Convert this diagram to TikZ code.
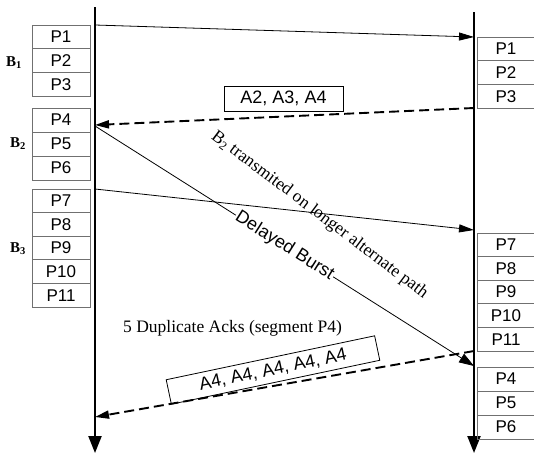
\documentclass[tikz,border=0pt]{standalone}
\usepackage{fontspec}
\setmainfont{Liberation Serif}
\newfontfamily\arialf{Liberation Sans}
\usetikzlibrary{arrows.meta}
\definecolor{boxgray}{HTML}{707070}
\tikzset{
  pbox/.style={draw=boxgray, line width=0.9pt, minimum width=58pt, minimum height=23.6pt,
    inner sep=0pt, font=\arialf\fontsize{17}{19}\selectfont},
  timeline/.style={line width=2.2pt, -{Triangle[length=17pt,width=13pt]}},
  sendarrow/.style={line width=0.8pt, -{Triangle[length=15pt,width=8pt]}},
  ackarrow/.style={line width=1.9pt, dash pattern=on 10pt off 5pt, -{Triangle[length=14pt,width=8pt]}},
  blabel/.style={font=\bfseries\fontsize{15}{17}\selectfont, anchor=west, inner sep=0pt},
  ackbox/.style={draw, line width=0.8pt, inner sep=0pt, font=\arialf\fontsize{18}{20}\selectfont},
}
\begin{document}
\begin{tikzpicture}[x=1pt,y=-1pt]
\useasboundingbox (0,0) rectangle (534,456);
% timelines
\coordinate (Ltop) at (95,7);
\coordinate (Lbot) at (95,453);
\coordinate (Rtop) at (474,12);
\coordinate (Rbot) at (474,453);
\draw[timeline] (Ltop) -- (Lbot);
\draw[timeline] (Rtop) -- (Rbot);
% left boxes
\node[pbox] (lp1) at (61,36.8) {P1};
\node[pbox] (lp2) at (61,60.5) {P2};
\node[pbox] (lp3) at (61,84.2) {P3};
\node[pbox,minimum height=24pt] (lp4) at (61,120) {P4};
\node[pbox,minimum height=24pt] (lp5) at (61,144) {P5};
\node[pbox,minimum height=24pt] (lp6) at (61,168) {P6};
\node[pbox] (lp7) at (61,200.8) {P7};
\node[pbox] (lp8) at (61,224.4) {P8};
\node[pbox] (lp9) at (61,248) {P9};
\node[pbox] (lp10) at (61,271.6) {P10};
\node[pbox] (lp11) at (61,295.2) {P11};
% right boxes
\node[pbox] (rp1) at (506,48.8) {P1};
\node[pbox] (rp2) at (506,72.5) {P2};
\node[pbox] (rp3) at (506,96.2) {P3};
\node[pbox] (rp7) at (506,244.8) {P7};
\node[pbox] (rp8) at (506,268.4) {P8};
\node[pbox] (rp9) at (506,292) {P9};
\node[pbox] (rp10) at (506,315.6) {P10};
\node[pbox] (rp11) at (506,339.2) {P11};
\node[pbox,minimum height=24pt] (rp4) at (506,379) {P4};
\node[pbox,minimum height=24pt] (rp5) at (506,403) {P5};
\node[pbox,minimum height=24pt] (rp6) at (506,427) {P6};
% burst labels
\node[blabel] (b1) at (6,63) {B\textsubscript{1}};
\node[blabel] (b2) at (10,144) {B\textsubscript{2}};
\node[blabel] (b3) at (10,249) {B\textsubscript{3}};
% connector end points
\coordinate (s1) at (95,25);
\coordinate (e1) at (474,37);
\coordinate (a1s) at (474,108);
\coordinate (a1e) at (95,125);
\coordinate (s2) at (95,126);
\coordinate (e2) at (474,366);
\coordinate (s3) at (95,189);
\coordinate (e3) at (474,230);
\coordinate (a2s) at (474,351);
\coordinate (a2e) at (95,417);
% connectors
\draw[sendarrow] (s1) -- (e1);
\draw[ackarrow] (a1s) -- (a1e);
\draw[sendarrow] (s3) -- (e3);
\draw[line width=0.8pt, -{Triangle[length=15pt,width=10pt]}] (s2) -- node[sloped, fill=white, inner sep=1pt, font=\arialf\fontsize{18}{20}\selectfont] (db) {Delayed Burst} (e2);
\draw[ackarrow] (a2s) -- (a2e);
% ack boxes
\node[ackbox, minimum width=119pt, minimum height=25pt] (ack1) at (283.5,98.5) {A2, A3, A4};
\node[ackbox, minimum width=213pt, minimum height=25pt, rotate=11.9] (ack2) at (273,370) {A4, A4, A4, A4, A4};
% texts
\node[font=\fontsize{17.5}{20}\selectfont, rotate=-37, inner sep=0pt] (alt) at (319.5,215) {B\textsubscript{2} transmited on longer alternate path};
\node[font=\fontsize{17.5}{20}\selectfont, anchor=base west, inner sep=0pt] (dup) at (123,332) {5 Duplicate Acks (segment P4)};
\end{tikzpicture}
\end{document}
